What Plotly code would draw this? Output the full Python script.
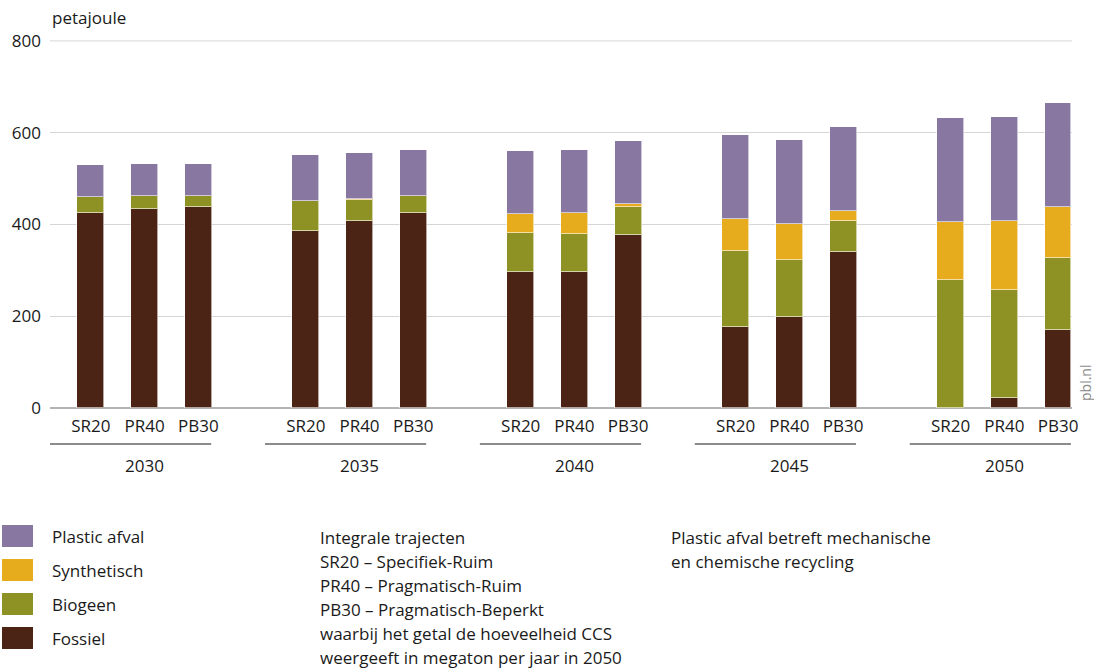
import plotly.graph_objects as go

years = ["2030", "2035", "2040", "2045", "2050"]
scenarios = ["SR20", "PR40", "PB30"]

# values per bar, ordered year by year, scenario by scenario (petajoule)
fossiel = [426, 433, 439, 386, 407, 426, 297, 296, 376, 177, 199, 339, 0, 21, 170]
biogeen = [34, 29, 23, 65, 47, 35, 85, 84, 63, 165, 124, 69, 279, 236, 158]
synthetisch = [0, 0, 0, 1, 1, 1, 40, 44, 5, 69, 79, 22, 126, 151, 109]
plastic_afval = [70, 70, 70, 100, 100, 100, 138, 138, 138, 183, 181, 183, 227, 227, 228]
y_ticks = [0, 200, 400, 600, 800]

series = [
    ("Fossiel", fossiel, "#4b2416"),
    ("Biogeen", biogeen, "#8e9224"),
    ("Synthetisch", synthetisch, "#e6ac1e"),
    ("Plastic afval", plastic_afval, "#8877a0"),
]

FONT = "Open Sans"
TXT = "#1a1a1a"
FS = 17
GRID = "#d6d6d6"

xpos = []
labels = []
for gi, y in enumerate(years):
    for si, s in enumerate(scenarios):
        xpos.append(gi * 4 + si)
        labels.append(s)

fig = go.Figure()
for name, vals, col in series:
    fig.add_trace(go.Bar(
        x=xpos, y=vals, name=name,
        marker=dict(color=col, line=dict(color="rgba(255,255,255,0.6)", width=1)),
        width=0.5, showlegend=False,
        hovertemplate=name + ": %{y}<extra></extra>",
    ))

fig.update_layout(
    barmode="stack",
    width=1094, height=668,
    margin=dict(l=50, r=22, t=40, b=260),
    plot_bgcolor="white", paper_bgcolor="white",
    font=dict(family=FONT, size=FS, color=TXT),
    xaxis=dict(range=[-0.76, 18.26], tickvals=xpos, ticktext=labels, showgrid=False,
               zeroline=False, showline=False, ticks="", tickfont=dict(size=FS, color=TXT),
               ticklabelstandoff=6),
    yaxis=dict(range=[0, 802], tickvals=y_ticks,
               showgrid=True, gridcolor=GRID, gridwidth=1, zeroline=True, zerolinecolor="#b4b4b4",
               zerolinewidth=2, ticks="", tickfont=dict(size=FS, color=TXT), ticklabelstandoff=8),
    bargap=0,
)

PH = 368.0  # plot height in px
PW = 1022.0  # plot width in px
BOT = 408.0  # y pixel of the plot bottom

shapes = []
annotations = []
# top gridline (plotly skips the one at the plot edge)
shapes.append(dict(type="line", xref="paper", yref="y", x0=0, x1=1, y0=y_ticks[-1], y1=y_ticks[-1],
                   line=dict(color=GRID, width=1), layer="below"))
for gi, y in enumerate(years):
    x0 = gi * 4 - 0.76
    x1 = gi * 4 + 2.24
    shapes.append(dict(type="line", xref="x", yref="paper", x0=x0, x1=x1,
                       y0=(BOT - 444) / PH, y1=(BOT - 444) / PH,
                       line=dict(color="#666666", width=1.5)))
    annotations.append(dict(xref="x", yref="paper", x=gi * 4 + 1, y=(BOT - 465) / PH, text=y,
                            showarrow=False, font=dict(size=FS, color=TXT), xanchor="center", yanchor="middle"))

annotations.append(dict(xref="paper", yref="paper", x=0, xanchor="left", y=(BOT - 17) / PH, yanchor="middle",
                        text="petajoule", showarrow=False, font=dict(size=FS, color=TXT)))
annotations.append(dict(xref="paper", yref="paper", x=(1085 - 50) / PW, xanchor="center", y=(BOT - 383) / PH,
                        yanchor="middle", text="pbl.nl", textangle=-90, showarrow=False,
                        font=dict(size=14, color="#8a8a8a")))

# legend (custom)
legend_items = [("Plastic afval", "#8877a0"), ("Synthetisch", "#e6ac1e"), ("Biogeen", "#8e9224"), ("Fossiel", "#4b2416")]
for i, (name, col) in enumerate(legend_items):
    top = 525 + i * 34
    shapes.append(dict(type="rect", xref="paper", yref="paper",
                       x0=(2 - 50) / PW, x1=(33 - 50) / PW,
                       y0=(BOT - top) / PH, y1=(BOT - top - 22) / PH,
                       fillcolor=col, line=dict(width=0)))
    annotations.append(dict(xref="paper", yref="paper", x=0, xanchor="left",
                            y=(BOT - top - 11) / PH, yanchor="middle", text=name, showarrow=False,
                            font=dict(size=FS, color=TXT)))

note1 = ["Integrale trajecten", "SR20 – Specifiek-Ruim", "PR40 – Pragmatisch-Ruim", "PB30 – Pragmatisch-Beperkt",
         "waarbij het getal de hoeveelheid CCS", "weergeeft in megaton per jaar in 2050"]
for i, t in enumerate(note1):
    annotations.append(dict(xref="paper", yref="paper", x=(318 - 50) / PW, xanchor="left",
                            y=(BOT - 537 - i * 24) / PH, yanchor="middle", text=t, showarrow=False,
                            font=dict(size=FS, color=TXT)))
note2 = ["Plastic afval betreft mechanische", "en chemische recycling"]
for i, t in enumerate(note2):
    annotations.append(dict(xref="paper", yref="paper", x=(669 - 50) / PW, xanchor="left",
                            y=(BOT - 537 - i * 24) / PH, yanchor="middle", text=t, showarrow=False,
                            font=dict(size=FS, color=TXT)))

fig.update_layout(shapes=shapes, annotations=annotations)
fig.write_html("out.html", config={"displayModeBar": False},
               post_script="document.body.style.margin='0';document.body.style.overflow='hidden';")
